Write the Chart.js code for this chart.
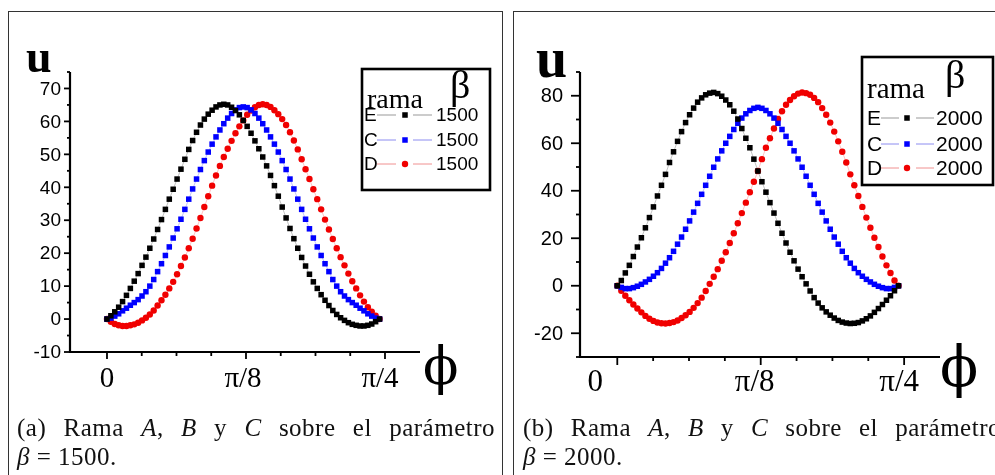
<!DOCTYPE html>
<html><head><meta charset="utf-8">
<script src="https://cdn.jsdelivr.net/npm/chart.js@4/dist/chart.umd.min.js"></script>
<style>
html,body{margin:0;padding:0;background:#fff;overflow:hidden;width:995px;height:475px;}
#wrap{position:relative;width:995px;height:475px;overflow:hidden;}
.frame{position:absolute;top:11px;height:480px;width:495px;border:1px solid #333;box-sizing:border-box;}
canvas{position:absolute;left:0;top:0;}
.cap{position:absolute;font-family:"Liberation Serif",serif;font-size:25px;letter-spacing:0.5px;color:#111;line-height:28px;}
.l1{text-align:justify;text-align-last:justify;width:478px;}
</style></head>
<body><div id="wrap">
<div class="frame" style="left:8px"></div>
<div class="frame" style="left:513px"></div>
<canvas id="c1" width="995" height="475"></canvas>
<canvas id="c2" width="995" height="475"></canvas>
<div class="cap l1" style="left:17px;top:414px">(a) Rama <i>A</i>, <i>B</i> y <i>C</i> sobre el parámetro</div>
<div class="cap" style="left:17px;top:443px"><i>β</i> = 1500.</div>
<div class="cap l1" style="left:523px;top:414px">(b) Rama <i>A</i>, <i>B</i> y <i>C</i> sobre el parámetro</div>
<div class="cap" style="left:523px;top:443px"><i>β</i> = 2000.</div>
</div>
<script>
// ---- data (phi in radians) ----
const phi = [0,0.011,0.022,0.033,0.044,0.055,0.066,0.077,0.088,0.099,0.11,0.121,0.132,0.143,0.154,0.165,0.176,0.187,0.198,0.209,0.22,0.231,0.242,0.253,0.264,0.275,0.286,0.297,0.308,0.319,0.33,0.341,0.352,0.363,0.374,0.385,0.396,0.407,0.418,0.429,0.44,0.451,0.462,0.473,0.484,0.495,0.506,0.517,0.528,0.539,0.55,0.561,0.572,0.583,0.594,0.605,0.616,0.627,0.638,0.649,0.66,0.671,0.682,0.693,0.704,0.715,0.726,0.737,0.748,0.759,0.77];

// beta = 1500
const uE1500 = [0,1.0,2.2,3.6,5.3,7.2,9.3,11.5,13.8,16.3,18.8,21.5,24.3,27.2,30.2,33.3,36.4,39.4,42.5,45.5,48.5,51.5,54.2,56.7,58.9,60.7,62.2,63.4,64.4,65.0,65.2,65.0,64.3,63.3,62.0,60.3,58.5,56.4,54.1,51.7,49.2,46.5,43.6,40.5,37.3,34.0,30.7,27.5,24.4,21.5,18.7,16.1,13.6,11.3,9.3,7.4,5.7,4.1,2.6,1.4,0.4,-0.4,-1.1,-1.6,-1.9,-2.1,-2.1,-1.9,-1.5,-0.8,0];
const uC1500 = [0,0.3,0.9,1.6,2.5,3.3,4.2,5.0,5.9,7.0,8.3,10.0,12.0,14.4,16.8,19.3,21.9,24.6,27.4,30.3,33.3,36.4,39.5,42.5,45.4,48.1,50.7,53.1,55.3,57.4,59.3,61.0,62.4,63.5,64.2,64.4,64.2,63.5,62.4,61.0,59.3,57.4,55.3,53.1,50.7,48.1,45.4,42.5,39.5,36.4,33.3,30.3,27.4,24.6,21.9,19.3,16.8,14.4,12.0,10.0,8.3,7.0,5.9,5.0,4.2,3.3,2.5,1.6,0.9,0.3,0];
const uD1500 = [0,-0.8,-1.5,-1.9,-2.1,-2.1,-1.9,-1.6,-1.1,-0.4,0.4,1.4,2.6,4.1,5.7,7.4,9.3,11.3,13.6,16.1,18.7,21.5,24.4,27.5,30.7,34.0,37.3,40.5,43.6,46.5,49.2,51.7,54.1,56.4,58.5,60.3,62.0,63.3,64.3,65.0,65.2,65.0,64.4,63.4,62.2,60.7,58.9,56.7,54.2,51.5,48.5,45.5,42.5,39.4,36.4,33.3,30.2,27.2,24.3,21.5,18.8,16.3,13.8,11.5,9.3,7.2,5.3,3.6,2.2,1.0,0];

// beta = 2000
const uE2000 = [0,2.2,5.4,8.6,12.3,16.3,20.2,24.4,28.7,33.2,37.8,42.3,46.9,51.9,56.4,60.8,64.9,68.7,72.0,74.8,77.3,79.1,80.4,81.1,81.4,80.9,79.8,78.2,76.2,73.5,70.2,66.2,62.1,58.1,53.3,48.3,43.8,39.4,35.0,30.6,26.3,22.1,18.0,14.1,10.5,7.0,3.8,0.8,-2.2,-5.0,-7.3,-9.3,-11.0,-12.4,-13.6,-14.6,-15.3,-15.7,-15.9,-15.8,-15.5,-14.8,-13.9,-12.7,-11.2,-9.6,-7.9,-6.1,-4.2,-2.1,0];
const uC2000 = [0,-0.7,-1.2,-1.2,-0.8,-0.2,0.6,1.6,2.7,4.0,5.5,7.3,9.5,11.8,14.5,17.5,20.5,23.8,27.3,31.0,34.7,38.5,42.3,46.1,49.9,53.4,56.8,60.0,62.9,65.8,68.4,70.6,72.4,73.8,74.7,75.1,74.7,73.8,72.4,70.6,68.4,65.8,62.9,60.0,56.8,53.4,49.9,46.1,42.3,38.5,34.7,31.0,27.3,23.8,20.5,17.5,14.5,11.8,9.5,7.3,5.5,4.0,2.7,1.6,0.6,-0.2,-0.8,-1.2,-1.2,-0.7,0];
const uD2000 = [0,-2.1,-4.2,-6.1,-7.9,-9.6,-11.2,-12.7,-13.9,-14.8,-15.5,-15.8,-15.9,-15.7,-15.3,-14.6,-13.6,-12.4,-11.0,-9.3,-7.3,-5.0,-2.2,0.8,3.8,7.0,10.5,14.1,18.0,22.1,26.3,30.6,35.0,39.4,43.8,48.3,53.3,58.1,62.1,66.2,70.2,73.5,76.2,78.2,79.8,80.9,81.4,81.1,80.4,79.1,77.3,74.8,72.0,68.7,64.9,60.8,56.4,51.9,46.9,42.3,37.8,33.2,28.7,24.4,20.2,16.3,12.3,8.6,5.4,2.2,0];

const ramas = ['E','C','D'];
const xTickValues = [0, Math.PI/8, Math.PI/4];
const xTickLabels = ['0','π/8','π/4'];
const yTicks1500 = [-10,0,10,20,30,40,50,60,70];
const yTicks2000 = [-20,0,20,40,60,80];

// ---- drawing helpers ----
const decor = {
  id:'decor',
  beforeDatasetsDraw(chart, args, o){
    const ctx = chart.ctx, xs = chart.scales.x, ys = chart.scales.y, a = chart.chartArea;
    ctx.save();
    ctx.strokeStyle = '#000'; ctx.fillStyle = '#000';
    ctx.lineWidth = 2.2;
    ctx.beginPath(); ctx.moveTo(a.left, a.top); ctx.lineTo(a.left, a.bottom); ctx.lineTo(a.right, a.bottom); ctx.stroke();
    ctx.lineWidth = 1.8;
    // y ticks
    ctx.font = o.yFont; ctx.textAlign = 'right'; ctx.textBaseline = 'middle';
    o.yTicks.forEach(v => {
      const y = ys.getPixelForValue(v);
      ctx.beginPath(); ctx.moveTo(a.left - o.yMaj, y); ctx.lineTo(a.left, y); ctx.stroke();
      ctx.fillText(String(v), a.left - o.yLabelGap, y + 1);
    });
    const st = o.yTicks[1] - o.yTicks[0];
    for (let v = o.yTicks[0] - st/2; v <= ys.max + 0.01; v += st) {
      if (v < ys.min - 0.01) continue;
      const y = ys.getPixelForValue(v);
      ctx.beginPath(); ctx.moveTo(a.left - o.yMin, y); ctx.lineTo(a.left, y); ctx.stroke();
    }
    // x ticks
    for (let k = 0; k <= 8; k++) {
      const x = xs.getPixelForValue(k * Math.PI / 32);
      const len = (k % 4 === 0) ? o.xMaj : o.xMin;
      ctx.beginPath(); ctx.moveTo(x, a.bottom); ctx.lineTo(x, a.bottom + len); ctx.stroke();
    }
    ctx.font = o.xFont; ctx.textAlign = 'center'; ctx.textBaseline = 'alphabetic';
    xTickValues.forEach((v, i) => {
      ctx.fillText(xTickLabels[i], xs.getPixelForValue(v) + o.xLabelShift[i], o.xLabelBase);
    });
    // axis titles
    ctx.font = o.uFont; ctx.textAlign = 'left';
    ctx.fillText('u', o.uPos[0], o.uPos[1]);
    ctx.font = o.phiFont;
    ctx.fillText('ϕ', o.phiPos[0], o.phiPos[1]);
    ctx.restore();
  },
  afterDraw(chart, args, o){
    const ctx = chart.ctx, L = o.legend;
    ctx.save();
    ctx.fillStyle = '#fff';
    ctx.fillRect(L.box[0], L.box[1], L.box[2], L.box[3]);
    ctx.strokeStyle = '#000'; ctx.lineWidth = 2.6;
    ctx.strokeRect(L.box[0], L.box[1], L.box[2], L.box[3]);
    ctx.fillStyle = '#000';
    ctx.textBaseline = 'alphabetic'; ctx.textAlign = 'left';
    ctx.font = L.ramaFont; ctx.fillText('rama', L.rama[0], L.rama[1]);
    ctx.font = L.betaFont; ctx.fillText('β', L.beta[0], L.beta[1]);
    chart.data.datasets.forEach((ds, i) => {
      const y = L.rowY[i];
      ctx.font = L.rowFont; ctx.textBaseline = 'middle'; ctx.fillStyle = '#000';
      ctx.fillText(ds.label, L.letterX, y + 1);
      ctx.strokeStyle = ds.legendLine; ctx.lineWidth = 1;
      ctx.beginPath(); ctx.moveTo(L.seg1[0], y); ctx.lineTo(L.seg1[1], y);
      ctx.moveTo(L.seg2[0], y); ctx.lineTo(L.seg2[1], y); ctx.stroke();
      ctx.fillStyle = ds.pointBackgroundColor;
      if (ds.pointStyle === 'circle') {
        ctx.beginPath(); ctx.arc(L.markX, y, ds.pointRadius, 0, 2*Math.PI); ctx.fill();
      } else {
        const s = ds.pointRadius * Math.SQRT1_2;
        ctx.fillRect(L.markX - s, y - s, 2*s, 2*s);
      }
      ctx.fillStyle = '#000';
      ctx.fillText(o.betaValue, L.valX, y + 1);
    });
    ctx.restore();
  }
};

function mkSets(e, c, d){
  const pts = arr => phi.map((x, i) => ({x: x, y: arr[i]}));
  return [
    {label: ramas[0], data: pts(e), pointStyle:'rect', pointRadius:3.9, pointBackgroundColor:'#000', pointBorderWidth:0,
     showLine:true, borderColor:'rgba(0,0,0,0.3)', borderWidth:0.8, legendLine:'#999'},
    {label: ramas[1], data: pts(c), pointStyle:'rect', pointRadius:3.9, pointBackgroundColor:'#0000ff', pointBorderWidth:0,
     showLine:true, borderColor:'rgba(0,0,255,0.3)', borderWidth:0.8, legendLine:'#8c8cf0'},
    {label: ramas[2], data: pts(d), pointStyle:'circle', pointRadius:3.2, pointBackgroundColor:'#f00000', pointBorderWidth:0,
     showLine:true, borderColor:'rgba(255,0,0,0.3)', borderWidth:0.8, legendLine:'#f09090'}
  ];
}

function mkChart(id, sets, pad, xr, yr, deco){
  return new Chart(document.getElementById(id), {
    type:'scatter',
    data:{datasets: sets},
    options:{
      responsive:false, animation:false, devicePixelRatio:1,
      layout:{padding: pad},
      scales:{
        x:{type:'linear', min:xr[0], max:xr[1], display:false},
        y:{type:'linear', min:yr[0], max:yr[1], display:false}
      },
      events:[],
      plugins:{legend:{display:false}, tooltip:{enabled:false}, decor: deco}
    },
    plugins:[decor]
  });
}

mkChart('c1', mkSets(uE1500, uC1500, uD1500),
  {left:70, right:575, top:72, bottom:123}, [-0.1045, 0.8843], [-10, 75],
  {yTicks: yTicks1500, yFont:'19px "Liberation Sans"', yMaj:6, yMin:3, yLabelGap:9,
   xMaj:7, xMin:4, xFont:'29px "Liberation Serif"', xLabelShift:[0,-3,-5], xLabelBase:387,
   uFont:'bold 46px "Liberation Serif"', uPos:[26,72], phiFont:'52px "DejaVu Serif"', phiPos:[423,384],
   betaValue:'1500',
   legend:{box:[362,69,128,121], ramaFont:'28px "Liberation Serif"', rama:[367,108], betaFont:'40px "Liberation Serif"', beta:[450,98],
     rowFont:'19px "Liberation Sans"', rowY:[115,140,164], letterX:364, seg1:[377,396], markX:405, seg2:[413,432], valX:436}
  });

mkChart('c2', mkSets(uE2000, uC2000, uD2000),
  {left:580, right:55, top:72, bottom:118}, [-0.1021, 0.8836], [-30, 90],
  {yTicks: yTicks2000, yFont:'20px "Liberation Sans"', yMaj:9, yMin:4, yLabelGap:17,
   xMaj:8, xMin:4, xFont:'31px "Liberation Serif"', xLabelShift:[-22,-6,-5], xLabelBase:391,
   uFont:'bold 56px "Liberation Serif"', uPos:[536,77], phiFont:'56px "DejaVu Serif"', phiPos:[940,386],
   betaValue:'2000',
   legend:{box:[862,57,131,128], ramaFont:'29px "Liberation Serif"', rama:[867,98], betaFont:'40px "Liberation Serif"', beta:[945,88],
     rowFont:'21px "Liberation Sans"', rowY:[118,144,168], letterX:867, seg1:[881,899], markX:907, seg2:[916,934], valX:936}
  });
</script>
</body></html>
